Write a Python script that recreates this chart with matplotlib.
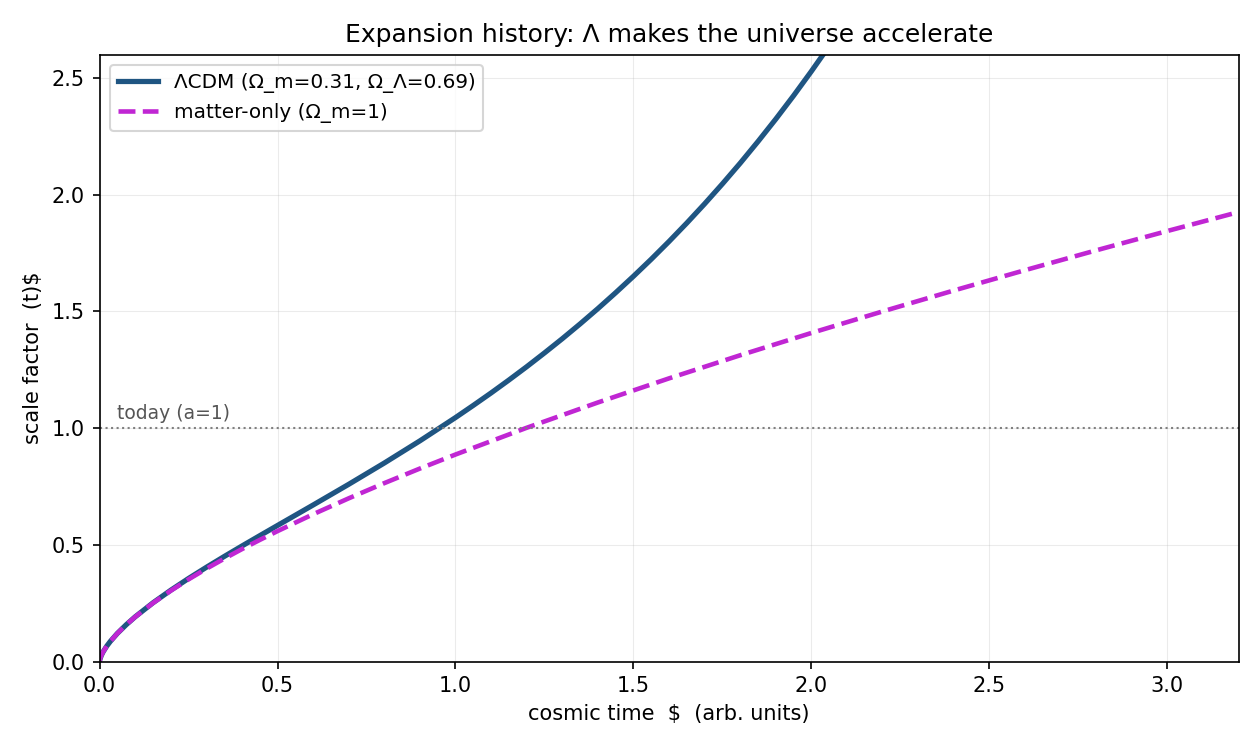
import matplotlib
matplotlib.use("Agg")
import matplotlib.pyplot as plt

# cosmic time (arb. units) and scale factor
t_lcdm = [0.0, 0.001, 0.005, 0.01, 0.02, 0.03, 0.05, 0.075, 0.1, 0.15, 0.2, 0.25,
          0.3, 0.35, 0.4, 0.45, 0.5, 0.6, 0.7, 0.8, 0.9, 1.0, 1.05, 1.1, 1.15,
          1.2, 1.25, 1.3, 1.35, 1.4, 1.45, 1.5, 1.55, 1.6, 1.65, 1.7, 1.75, 1.8,
          1.85, 1.9, 1.95, 2.0, 2.05, 2.1]
a_lcdm = [0.0, 0.0089, 0.0259, 0.0412, 0.0654, 0.0856, 0.1204, 0.1577, 0.1914,
          0.2514, 0.3054, 0.3558, 0.4036, 0.4498, 0.4949, 0.5391, 0.5830, 0.6706,
          0.7593, 0.8505, 0.9455, 1.0453, 1.0974, 1.1508, 1.2061, 1.2631, 1.3223,
          1.3832, 1.4465, 1.5121, 1.5803, 1.6508, 1.7239, 1.8000, 1.8791, 1.9613,
          2.0469, 2.1357, 2.2285, 2.3247, 2.4250, 2.5295, 2.6381, 2.7511]

t_matter = [0.0, 0.001, 0.005, 0.01, 0.02, 0.03, 0.05, 0.075, 0.1, 0.15, 0.2, 0.25,
            0.3, 0.35, 0.4, 0.45, 0.5, 0.6, 0.7, 0.8, 0.9, 1.0, 1.2, 1.4, 1.6, 1.8,
            2.0, 2.2, 2.4, 2.6, 2.8, 3.0, 3.2]
a_matter = [0.0, 0.0089, 0.0259, 0.0412, 0.0654, 0.0856, 0.1204, 0.1577, 0.1911,
            0.2504, 0.3033, 0.3520, 0.3974, 0.4404, 0.4815, 0.5208, 0.5587, 0.6310,
            0.6992, 0.7643, 0.8268, 0.8869, 1.0015, 1.1099, 1.2133, 1.3124, 1.4079,
            1.5002, 1.5898, 1.6769, 1.7619, 1.8448, 1.9259]

fig, ax = plt.subplots(figsize=(8.4, 5), dpi=150)

ax.plot(t_lcdm, a_lcdm, color='#1f5582', lw=2.5,
        label='ΛCDM (Ω_m=0.31, Ω_Λ=0.69)')
ax.plot(t_matter, a_matter, color='#c026d3', lw=2.2, ls='--',
        label='matter-only (Ω_m=1)')

ax.axhline(1.0, color='gray', ls=':', lw=1)
ax.text(0.05, 1.02, 'today (a=1)', color='#555555', fontsize=9, va='bottom')

ax.set_xlim(0, 3.2)
ax.set_ylim(0, 2.6)
ax.grid(True, alpha=0.25, lw=0.5)
ax.set_xlabel('cosmic time  $  (arb. units)')
ax.set_ylabel('scale factor  (t)$')
ax.set_title('Expansion history: Λ makes the universe accelerate')
ax.legend(loc='upper left', fontsize=9.6)

plt.subplots_adjust(left=0.079, right=0.983, top=0.927, bottom=0.118)
plt.savefig('out.png', dpi=150)
